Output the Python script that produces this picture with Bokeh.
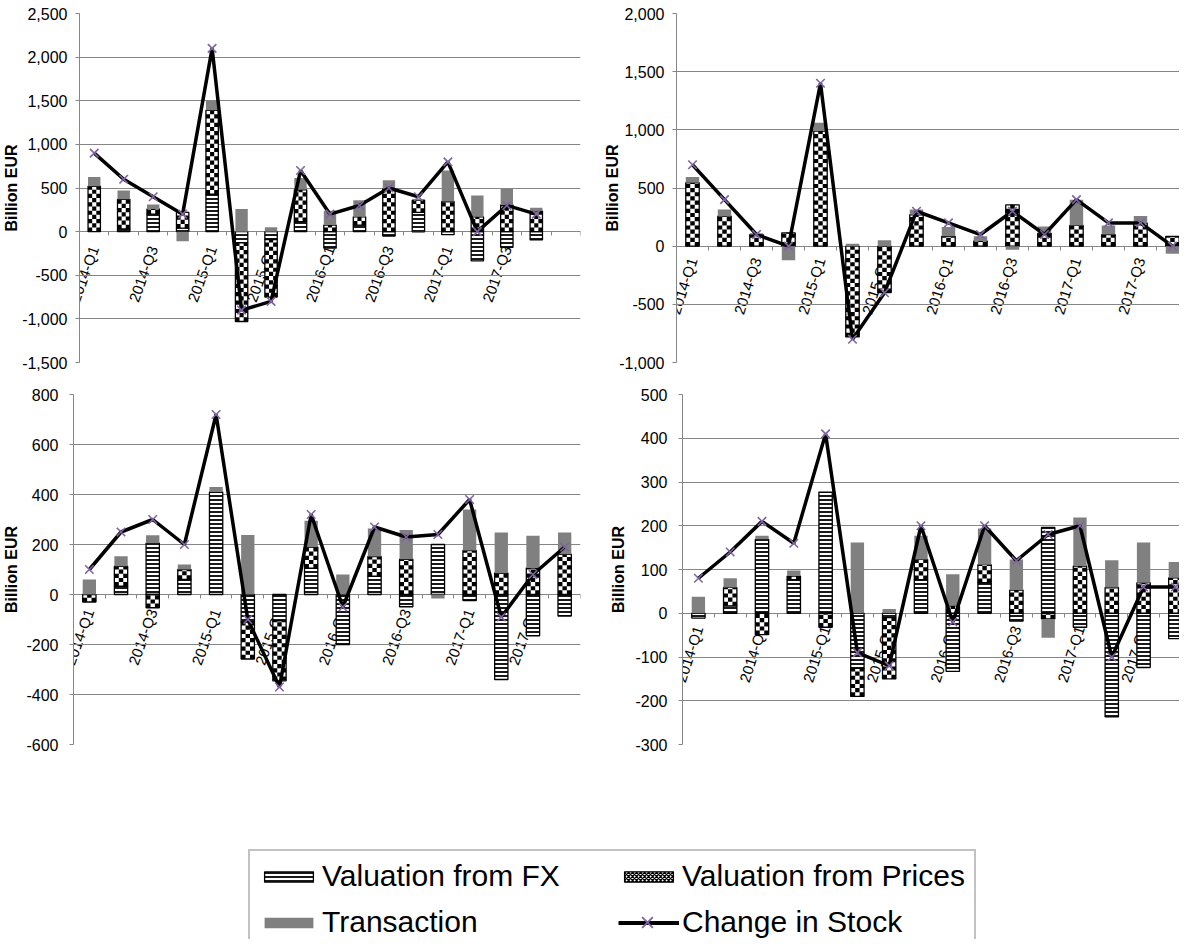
import numpy as np
from bokeh.plotting import figure
from bokeh.models import (Range1d, FixedTicker, NumeralTickFormatter, Legend,
                          LegendItem, LinearAxis, Label)
from bokeh.layouts import column, row
from bokeh.embed import file_html
from bokeh.resources import INLINE

# ---------------- data ----------------
quarters = ["2014-Q1", "2014-Q2", "2014-Q3", "2014-Q4",
            "2015-Q1", "2015-Q2", "2015-Q3", "2015-Q4",
            "2016-Q1", "2016-Q2", "2016-Q3", "2016-Q4",
            "2017-Q1", "2017-Q2", "2017-Q3", "2017-Q4"]
shown_labels = ["2014-Q1", "2014-Q3", "2015-Q1", "2015-Q3",
                "2016-Q1", "2016-Q3", "2017-Q1", "2017-Q3"]
series_names = ["Valuation from FX", "Valuation from Prices", "Transaction", "Change in Stock"]

# top-left panel
tl_fx = [0, 30, 200, 40, 430, -130, -90, 115, -190, 75, -50, 220, -35, -335, -180, -95]
tl_prices = [520, 340, 60, 180, 960, -900, -660, 365, 75, 95, 490, 140, 345, 170, 305, 235]
tl_trans = [105, 100, 50, -110, 110, 260, 50, 135, 165, 190, 100, -15, 355, 245, 185, 40]
tl_change = [900, 600, 400, 200, 2100, -900, -800, 700, 200, 300, 500, 400, 800, 0, 300, 200]

# top-right panel
tr_fx = [0, 0, 0, 0, 0, 0, 0, 0, 0, 0, 0, 0, 0, 0, 0, 0]
tr_prices = [545, 258, 100, 115, 990, -780, -400, 270, 85, 45, 355, 110, 178, 100, 200, 85]
tr_trans = [50, 57, 10, -120, 70, 20, 50, 45, 80, 40, -30, 60, 222, 78, 60, -65]
tr_change = [700, 400, 100, 0, 1400, -800, -400, 300, 200, 100, 300, 100, 400, 200, 200, 0]

# bottom-left panel
bl_fx = [0, 33, 205, 60, 410, -110, -105, 105, -200, 73, -49, 200, -24, -340, -165, -86]
bl_prices = [-30, 80, -53, 40, 0, -148, -240, 85, 0, 79, 141, 0, 176, 86, 106, 161]
bl_trans = [60, 40, 32, 20, 20, 238, -5, 105, 80, 112, 117, -16, 164, 162, 129, 87]
bl_change = [100, 250, 300, 200, 720, -100, -370, 320, -50, 270, 230, 240, 380, -90, 80, 190]

# bottom-right panel
br_fx = [-11, 17, 169, 77, 277, -126, -10, 77, -133, 70, -18, 196, -32, -237, -124, -58]
br_prices = [0, 42, -49, 8, -32, -64, -140, 46, 17, 41, 53, -13, 108, 59, 70, 81]
br_trans = [38, 21, 8, 13, 0, 162, 10, 54, 72, 83, 70, -43, 111, 62, 92, 36]
br_change = [80, 140, 210, 160, 410, -90, -120, 200, -20, 200, 120, 180, 200, -100, 60, 60]

# ---------------- styles ----------------
FONT = "Liberation Sans"
GRAY = "#868686"
PURPLE = "#7F64A2"

FX_STYLE = dict(fill_color="white", line_color="black", line_width=1.3,
                hatch_pattern="horizontal_line", hatch_color="black",
                hatch_scale=4, hatch_weight=1.8)
PR_STYLE = dict(fill_color="white", line_color="black", line_width=1.3)
PR_LEGEND_STYLE = dict(fill_color="white", line_color="black", line_width=1.3,
                       hatch_pattern="diagonal_cross", hatch_color="black",
                       hatch_scale=4, hatch_weight=1.3)
TR_STYLE = dict(fill_color="#808080", line_color=None)
BAR_W = 0.42
CELL_PX = 4.2


def stacked_segments(series):
    n = len(series[0])
    pos = np.zeros(n)
    neg = np.zeros(n)
    out = []
    for s in series:
        s = np.asarray(s, dtype=float)
        bottom = np.where(s >= 0, pos, neg + s)
        top = np.where(s >= 0, pos + s, neg)
        pos = np.where(s >= 0, pos + s, pos)
        neg = np.where(s < 0, neg + s, neg)
        m = s != 0
        out.append((np.arange(n)[m], bottom[m], top[m]))
    return out


def checker_cells(xs, bots, tops, units_per_px_y):
    """black cells of a checkerboard fill (3 columns across the bar)"""
    cw = BAR_W / 3
    ch = CELL_PX * units_per_px_y
    L, R, B, T = [], [], [], []
    for x, b, t in zip(xs, bots, tops):
        nrows = int(np.ceil((t - b) / ch - 1e-9))
        for r in range(nrows):
            y0 = b + r * ch
            y1 = min(y0 + ch, t)
            for c in range(3):
                if (r + c) % 2 == 0:
                    L.append(x - BAR_W / 2 + c * cw)
                    R.append(x - BAR_W / 2 + (c + 1) * cw)
                    B.append(y0)
                    T.append(y1)
    return L, R, B, T


def make_panel(fx, prices, trans, change, y_lo, y_hi, y_step, n_slots, x_end,
               width, height, b_left, b_top, b_bottom, b_right,
               lab_standoff, title_standoff, angle_deg, x_lab_standoff):
    p = figure(width=width, height=height,
               x_range=Range1d(-0.5, x_end), y_range=Range1d(y_lo, y_hi),
               output_backend="svg", toolbar_location=None,
               x_axis_type=None,
               min_border_left=b_left, min_border_right=b_right,
               min_border_top=b_top, min_border_bottom=b_bottom)
    p.outline_line_color = None
    p.xgrid.grid_line_color = None
    yticks = [float(v) for v in np.arange(y_lo, y_hi + y_step / 2, y_step)]
    p.yaxis.ticker = FixedTicker(ticks=yticks)
    p.ygrid.ticker = FixedTicker(ticks=yticks)
    p.ygrid.grid_line_color = GRAY
    p.ygrid.grid_line_width = 1
    p.yaxis.formatter = NumeralTickFormatter(format="0,0")
    p.yaxis.major_label_text_font = FONT
    p.yaxis.major_label_text_font_size = "16px"
    p.yaxis.major_label_text_color = "black"
    p.yaxis.axis_line_color = GRAY
    p.yaxis.major_tick_line_color = GRAY
    p.yaxis.major_tick_out = 4
    p.yaxis.major_tick_in = 0
    p.yaxis.minor_tick_line_color = None
    p.yaxis.major_label_standoff = lab_standoff
    p.yaxis.axis_label = "Billion EUR"
    p.yaxis.axis_label_text_font = FONT
    p.yaxis.axis_label_text_font_size = "16px"
    p.yaxis.axis_label_text_font_style = "bold"
    p.yaxis.axis_label_text_color = "black"
    p.yaxis.axis_label_standoff = title_standoff

    # category axis on the zero line: labels every other quarter,
    # small tick marks between categories
    lab_x = [quarters.index(q) for q in shown_labels]
    xaxis = LinearAxis(
        fixed_location=0,
        ticker=FixedTicker(ticks=lab_x, minor_ticks=[i - 0.5 for i in range(n_slots + 1)]),
        major_label_overrides={i: quarters[i] for i in lab_x},
        major_label_orientation=np.deg2rad(angle_deg),
        major_label_text_font=FONT, major_label_text_font_size="15px",
        major_label_text_color="black",
        major_label_standoff=x_lab_standoff,
        axis_line_color=GRAY, major_tick_line_color=None,
        major_tick_out=0, major_tick_in=0,
        minor_tick_line_color=GRAY, minor_tick_out=4, minor_tick_in=0,
        level="underlay")
    p.add_layout(xaxis, "below")

    segs = stacked_segments([fx, prices, trans])
    # FX: striped bars
    xs, bot, top = segs[0]
    p.vbar(x=xs, bottom=bot, top=top, width=BAR_W, **FX_STYLE)
    # Prices: checkerboard bars
    xs, bot, top = segs[1]
    p.vbar(x=xs, bottom=bot, top=top, width=BAR_W, **PR_STYLE)
    frame_h = height - b_top - b_bottom
    L, R, B, T = checker_cells(xs, bot, top, (y_hi - y_lo) / frame_h)
    p.quad(left=L, right=R, bottom=B, top=T, fill_color="black", line_color=None)
    # Transaction: gray bars
    xs, bot, top = segs[2]
    p.vbar(x=xs, bottom=bot, top=top, width=BAR_W, **TR_STYLE)

    xs = list(range(len(change)))
    p.line(x=xs, y=change, line_color="black", line_width=3.5)
    p.scatter(x=xs, y=change, marker="x", size=12, line_color=PURPLE, line_width=1.6)
    return p


tl = make_panel(tl_fx, tl_prices, tl_trans, tl_change, -1500, 2500, 500, 17, 16.5,
                592, 377, 75, 13, 15, 12, 8, -1, 70, 11)
tr = make_panel(tr_fx, tr_prices, tr_trans, tr_change, -1000, 2000, 500, 17, 15.22,
                587, 377, 84, 9, 15, 0, 8, -5, 72, 8)
bl = make_panel(bl_fx, bl_prices, bl_trans, bl_change, -600, 800, 200, 16, 15.5,
                592, 415, 72, 17, 46, 12, 11, 3, 70, 11)
br = make_panel(br_fx, br_prices, br_trans, br_change, -300, 500, 100, 17, 15.13,
                587, 415, 90, 12, 48, 0, 11, 5, 72, 9)

# small stray dash at the lower left of the original page
bl.add_layout(Label(x=-71, y=-15, x_units="screen", y_units="screen", text="-",
                    text_font=FONT, text_font_size="18px", text_color="black",
                    text_baseline="middle"))

# ---------------- legend ----------------
lg = figure(width=1179, height=147, output_backend="svg", toolbar_location=None,
            x_range=Range1d(0, 1), y_range=Range1d(0, 1), min_border=0)
lg.axis.visible = False
lg.grid.visible = False
lg.outline_line_color = None
nan = [np.nan]
r_fx = lg.vbar(x=nan, top=nan, width=0.1, **FX_STYLE)
r_pr = lg.vbar(x=nan, top=nan, width=0.1, **PR_LEGEND_STYLE)
r_tr = lg.vbar(x=nan, top=nan, width=0.1, **TR_STYLE)
r_ln = lg.line(x=nan, y=nan, line_color="black", line_width=4)
r_mk = lg.scatter(x=nan, y=nan, marker="x", size=16, line_color=PURPLE, line_width=1.8)

LEG_X, LEG_Y, LEG_PAD, LEG_GLYPH_W, LEG_STANDOFF, LEG_LABEL_W, LEG_SPACING = 248, -10, 8, 61, 3, 284, 12
legend = Legend(items=[LegendItem(label=series_names[0], renderers=[r_fx]),
                       LegendItem(label=series_names[1], renderers=[r_pr]),
                       LegendItem(label=series_names[2], renderers=[r_tr]),
                       LegendItem(label=series_names[3], renderers=[r_ln])],
                location=(LEG_X, LEG_Y), orientation="horizontal", ncols=2,
                glyph_width=LEG_GLYPH_W, glyph_height=13, label_standoff=LEG_STANDOFF,
                label_width=LEG_LABEL_W, label_height=33, spacing=LEG_SPACING,
                padding=LEG_PAD,
                label_text_font=FONT, label_text_font_size="30px",
                label_text_color="black",
                border_line_color=GRAY, border_line_width=2,
                background_fill_color="white", background_fill_alpha=1.0)
lg.add_layout(legend)

# the marker of "Change in Stock" drawn at its full size over the legend line
MK_BOX = 38
mk_x = LEG_X + LEG_PAD + LEG_GLYPH_W + LEG_STANDOFF + LEG_LABEL_W + LEG_SPACING + LEG_GLYPH_W / 2 - MK_BOX / 2
mk_y = LEG_Y + LEG_PAD + 33 / 2 - MK_BOX / 2 + 3
legend_mk = Legend(items=[LegendItem(label=" ", renderers=[r_mk])],
                   location=(mk_x, mk_y), glyph_width=MK_BOX, glyph_height=MK_BOX,
                   label_standoff=0, label_width=0, label_height=MK_BOX,
                   label_text_font_size="8px", padding=0, margin=0,
                   border_line_color=None, background_fill_alpha=0.0)
lg.add_layout(legend_mk)

layout = column(row(tl, tr), row(bl, br), lg)
open("out.html", "w").write(file_html(layout, INLINE))
